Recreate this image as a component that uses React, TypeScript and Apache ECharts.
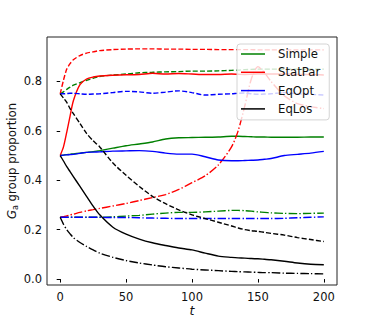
import React, { useEffect, useRef } from "react";
import * as echarts from "echarts";

const T = [0, 2.5, 5, 7.5, 10, 15, 20, 25, 30, 40, 50, 60, 70, 80, 90, 100, 110, 120, 130, 135, 140, 145, 150, 155, 160, 170, 180, 190, 200];

const SIMPLE_SOLID = [0.5, 0.502, 0.504, 0.505, 0.507, 0.51, 0.513, 0.516, 0.52, 0.53, 0.54, 0.547, 0.555, 0.567, 0.572, 0.573, 0.574, 0.575, 0.578, 0.578, 0.577, 0.576, 0.575, 0.575, 0.574, 0.574, 0.574, 0.575, 0.575];
const SIMPLE_DASHED = [0.75, 0.758, 0.768, 0.777, 0.785, 0.795, 0.805, 0.813, 0.82, 0.826, 0.83, 0.835, 0.837, 0.839, 0.84, 0.842, 0.842, 0.843, 0.845, 0.846, 0.848, 0.849, 0.85, 0.85, 0.85, 0.85, 0.85, 0.85, 0.85];
const SIMPLE_DASHDOT = [0.25, 0.25, 0.25, 0.25, 0.25, 0.25, 0.25, 0.25, 0.25, 0.252, 0.255, 0.258, 0.263, 0.267, 0.27, 0.27, 0.272, 0.275, 0.278, 0.278, 0.277, 0.275, 0.272, 0.27, 0.268, 0.266, 0.265, 0.266, 0.267];

const STATPAR_SOLID = [0.5, 0.535, 0.595, 0.66, 0.722, 0.787, 0.81, 0.818, 0.822, 0.825, 0.827, 0.828, 0.833, 0.83, 0.832, 0.83, 0.828, 0.828, 0.83, 0.829, 0.828, 0.829, 0.83, 0.83, 0.83, 0.83, 0.828, 0.828, 0.826];
const STATPAR_DASHED = [0.75, 0.805, 0.85, 0.872, 0.888, 0.905, 0.915, 0.92, 0.925, 0.929, 0.931, 0.932, 0.932, 0.931, 0.931, 0.93, 0.93, 0.929, 0.929, 0.929, 0.929, 0.929, 0.928, 0.928, 0.928, 0.928, 0.928, 0.928, 0.928];
const STATPAR_DASHDOT = [0.25, 0.253, 0.256, 0.26, 0.263, 0.27, 0.276, 0.281, 0.286, 0.296, 0.306, 0.318, 0.33, 0.342, 0.363, 0.39, 0.418, 0.462, 0.535, 0.6, 0.7, 0.81, 0.86, 0.835, 0.8, 0.742, 0.71, 0.698, 0.69];

const EQOPT_SOLID = [0.5, 0.502, 0.503, 0.504, 0.505, 0.509, 0.513, 0.514, 0.515, 0.518, 0.519, 0.52, 0.517, 0.51, 0.506, 0.506, 0.495, 0.482, 0.479, 0.479, 0.48, 0.481, 0.482, 0.485, 0.488, 0.5, 0.505, 0.51, 0.517];
const EQOPT_DASHED = [0.75, 0.75, 0.751, 0.752, 0.752, 0.75, 0.748, 0.749, 0.75, 0.755, 0.76, 0.758, 0.752, 0.757, 0.762, 0.755, 0.745, 0.748, 0.75, 0.752, 0.753, 0.75, 0.748, 0.749, 0.75, 0.755, 0.75, 0.748, 0.745];
const EQOPT_DASHDOT = [0.25, 0.25, 0.25, 0.25, 0.25, 0.25, 0.25, 0.25, 0.25, 0.249, 0.249, 0.248, 0.247, 0.246, 0.245, 0.245, 0.245, 0.245, 0.245, 0.245, 0.245, 0.245, 0.245, 0.245, 0.245, 0.246, 0.248, 0.25, 0.252];

const EQLOS_SOLID = [0.5, 0.478, 0.455, 0.435, 0.415, 0.375, 0.335, 0.295, 0.26, 0.21, 0.182, 0.162, 0.147, 0.136, 0.126, 0.118, 0.105, 0.093, 0.088, 0.086, 0.085, 0.083, 0.082, 0.08, 0.078, 0.072, 0.065, 0.06, 0.058];
const EQLOS_DASHED = [0.75, 0.733, 0.715, 0.69, 0.67, 0.63, 0.59, 0.56, 0.535, 0.47, 0.42, 0.375, 0.335, 0.305, 0.28, 0.26, 0.245, 0.23, 0.215, 0.207, 0.2, 0.196, 0.193, 0.189, 0.185, 0.178, 0.168, 0.16, 0.152];
const EQLOS_DASHDOT = [0.25, 0.222, 0.2, 0.183, 0.168, 0.148, 0.132, 0.118, 0.105, 0.088, 0.075, 0.065, 0.057, 0.05, 0.045, 0.04, 0.037, 0.034, 0.031, 0.03, 0.029, 0.028, 0.027, 0.026, 0.026, 0.024, 0.023, 0.022, 0.021];

const METHODS = ["Simple", "StatPar", "EqOpt", "EqLos"];
const COLORS = ["#008000", "#ff0000", "#0000ff", "#000000"];
const X_TICKS = [0, 50, 100, 150, 200];
const Y_TICKS = [0, 0.2, 0.4, 0.6, 0.8];

const FONT = "DejaVu Sans";
const LINE_ICON = "path://M0,0 L24,0 L24,1.5 L0,1.5 Z";

function mk(name: string, color: string, vals: number[], dash: any) {
  return {
    type: "line",
    name,
    data: T.map((t, i) => [t, vals[i]]),
    symbol: "none",
    showSymbol: false,
    smooth: 0.25,
    lineStyle: { color, width: 1.4, type: dash },
    itemStyle: { color },
    emphasis: { disabled: true },
    silent: true,
  };
}

export default function App() {
  const ref = useRef<HTMLDivElement>(null);
  useEffect(() => {
    if (!ref.current) return;
    const chart = echarts.init(ref.current, undefined, { renderer: "svg" });
    const groups = [
      [SIMPLE_SOLID, SIMPLE_DASHED, SIMPLE_DASHDOT],
      [STATPAR_SOLID, STATPAR_DASHED, STATPAR_DASHDOT],
      [EQOPT_SOLID, EQOPT_DASHED, EQOPT_DASHDOT],
      [EQLOS_SOLID, EQLOS_DASHED, EQLOS_DASHDOT],
    ];
    const series: any[] = [];
    groups.forEach((g, k) => {
      series.push(mk(METHODS[k], COLORS[k], g[0], "solid"));
      series.push(mk(METHODS[k] + " (dashed)", COLORS[k], g[1], [5, 2.2]));
      series.push(mk(METHODS[k] + " (dash-dot)", COLORS[k], g[2], [8.5, 2.2, 1.4, 2.2]));
    });
    chart.setOption({
      animation: false,
      backgroundColor: "#fff",
      grid: {
        left: 47,
        right: 37,
        top: 37,
        bottom: 35,
        containLabel: false,
        outerBoundsMode: "none",
        show: true,
        borderColor: "#222",
        borderWidth: 1,
        backgroundColor: "transparent",
      },
      legend: {
        data: METHODS.map((m) => ({ name: m, icon: LINE_ICON })),
        orient: "vertical",
        left: 237,
        top: 44,
        itemWidth: 24,
        itemHeight: 14,
        itemGap: 4.3,
        padding: [3, 9, 4, 4],
        backgroundColor: "rgba(255,255,255,0.8)",
        borderColor: "#d4d4d4",
        borderWidth: 1,
        borderRadius: 3,
        selectedMode: false,
        textStyle: {
          fontFamily: FONT,
          fontSize: 11.7,
          color: "#111",
          lineHeight: 14,
          padding: [0, 0, 0, 8],
        },
      },
      xAxis: {
        type: "value",
        min: -10,
        max: 210,
        axisLine: { show: false },
        axisTick: {
          show: true,
          length: 3.5,
          lineStyle: { color: "#000" },
          customValues: X_TICKS,
        },
        axisLabel: {
          customValues: X_TICKS,
          margin: 6,
          fontSize: 11.5,
          fontFamily: FONT,
          color: "#111",
        },
        splitLine: { show: false },
        name: "t",
        nameLocation: "middle",
        nameGap: 18,
        nameMoveOverlap: false,
        nameTextStyle: {
          fontFamily: FONT,
          fontStyle: "italic",
          fontSize: 12.5,
          lineHeight: 14,
          color: "#111",
        },
      },
      yAxis: {
        type: "value",
        min: -0.024,
        max: 0.98,
        axisLine: { show: false },
        axisTick: {
          show: true,
          length: 3.5,
          lineStyle: { color: "#000" },
          customValues: Y_TICKS,
        },
        axisLabel: {
          customValues: Y_TICKS,
          margin: 5,
          fontSize: 11.5,
          fontFamily: FONT,
          color: "#111",
          formatter: (v: number) => v.toFixed(1),
        },
        splitLine: { show: false },
        name: "{i|G}{s|a} group proportion",
        nameLocation: "middle",
        nameRotate: 90,
        nameGap: 28,
        nameMoveOverlap: false,
        nameTextStyle: {
          fontFamily: FONT,
          fontSize: 11.7,
          color: "#111",
          rich: {
            i: { fontFamily: FONT, fontStyle: "italic", fontSize: 11.7, color: "#111", lineHeight: 14 },
            s: { fontFamily: FONT, fontSize: 8, color: "#111", verticalAlign: "bottom", lineHeight: 9 },
          },
        },
      },
      series,
    });
    return () => chart.dispose();
  }, []);
  return (
    <div
      ref={ref}
      style={{ position: "fixed", left: 0, top: 0, width: 374, height: 320, background: "#fff" }}
    />
  );
}
